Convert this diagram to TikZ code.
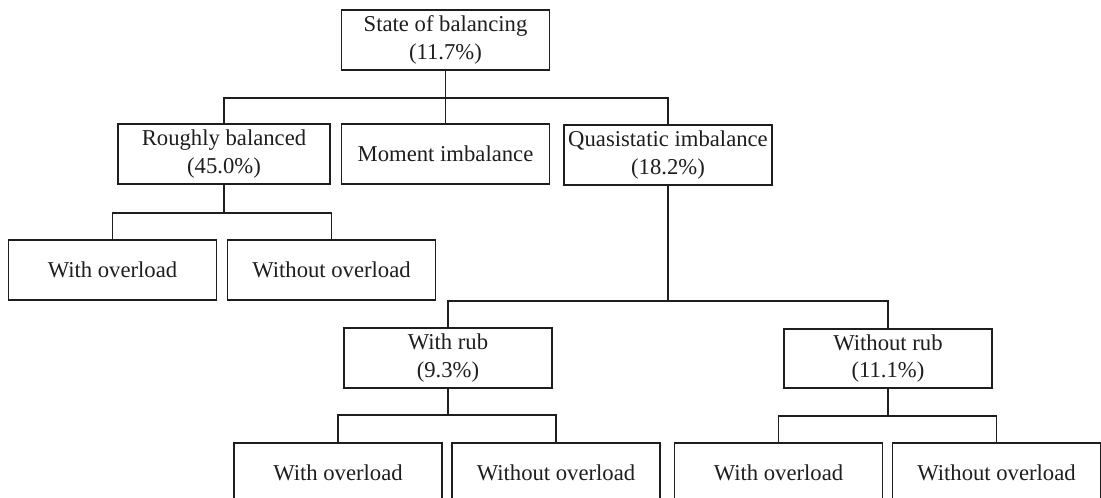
\documentclass[tikz,border=0pt]{standalone}
\usepackage{fontspec}
\setmainfont{Liberation Serif}
\begin{document}
\begin{tikzpicture}[x=0.75pt,y=-0.75pt,
  box/.style={draw=ink, line width=1.45pt, fill=white, align=center,
    minimum width=156pt, minimum height=44.5pt, inner sep=2pt,
    text=ink, font=\fontsize{17}{20.5}\selectfont},
  link/.style={draw=ink, line width=1.45pt}]
\definecolor{ink}{HTML}{1E1E1E}
\useasboundingbox (0,0) rectangle (1101,498);
\clip (0,0) rectangle (1101,498);

% level 0
\node[box] (root) at (445.5,40) {State of balancing\\(11.7\%)};
% level 1
\node[box, minimum width=159pt] (rough) at (224,154) {Roughly balanced\\(45.0\%)};
\node[box] (moment) at (445.5,154) {Moment imbalance};
\node[box] (quasi) at (668,155) {Quasistatic imbalance\\(18.2\%)};
% level 2
\node[box] (wol) at (112.5,270) {With overload};
\node[box] (wool) at (331.5,270) {Without overload};
\node[box] (rub) at (448,358) {With rub\\(9.3\%)};
\node[box] (norub) at (888,358.5) {Without rub\\(11.1\%)};
% level 3
\node[box] (rubwol) at (338,473) {With overload};
\node[box] (rubwool) at (556,473) {Without overload};
\node[box] (norubwol) at (778.5,473) {With overload};
\node[box] (norubwool) at (996.5,473) {Without overload};

% connectors
\coordinate (j0) at (445.5,98);
\draw[link] (root.south) -- (j0);
\draw[link] (j0) -| (rough.north);
\draw[link] (j0) -- (moment.north);
\draw[link] (j0) -| (quasi.north);

\coordinate (j1) at (224,213);
\draw[link] (rough.south) -- (j1);
\draw[link] (j1) -| (wol.north);
\draw[link] (j1) -| (wool.north);

\coordinate (j2) at (668,301);
\draw[link] (quasi.south) -- (j2);
\draw[link] (j2) -| (rub.north);
\draw[link] (j2) -| (norub.north);

\coordinate (j3) at (448,415);
\draw[link] (rub.south) -- (j3);
\draw[link] (j3) -| (rubwol.north);
\draw[link] (j3) -| (rubwool.north);

\coordinate (j4) at (888,416);
\draw[link] (norub.south) -- (j4);
\draw[link] (j4) -| (norubwol.north);
\draw[link] (j4) -| (norubwool.north);
\end{tikzpicture}
\end{document}
